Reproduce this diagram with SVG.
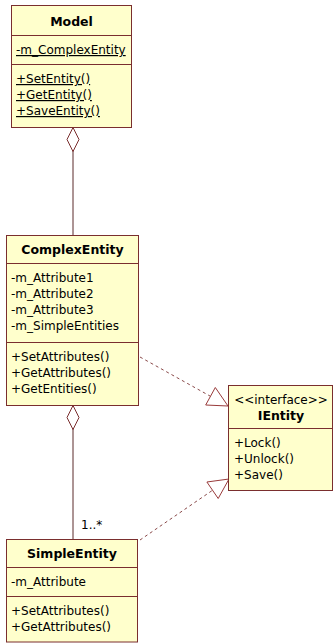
<svg xmlns="http://www.w3.org/2000/svg" width="334" height="643" viewBox="0 0 334 643">
<style>
.box{fill:#ffffcc;stroke:#7a2e2e;stroke-width:1}
.sep{stroke:#7a2e2e;stroke-width:1}
text{font-family:"DejaVu Sans",Verdana,sans-serif;font-size:12px;fill:#000}
.t{font-weight:bold;font-size:12.5px;text-anchor:middle}
.c{text-anchor:middle}
.u{text-decoration:underline}
.line{stroke:#5a2a2a;stroke-width:1;fill:none}
.dash{stroke:#8a4a4a;stroke-width:1;stroke-dasharray:3 3;fill:none}
.dia{fill:#ffffff;stroke:#7a2e2e;stroke-width:1}
.tri{fill:#ffffff;stroke:#993a3a;stroke-width:1}
</style>
<rect width="334" height="643" fill="#ffffff"/>
<g id="connectors">
<path class="line" d="M73 151 V235"/>
<polygon class="dia" points="73,127.5 79,139.5 73,151.5 67,139.5"/>
<path class="line" d="M73 429 V539"/>
<polygon class="dia" points="73,405.5 79,417.5 73,429.5 67,417.5"/>
<text x="81" y="529">1..*</text>
<path class="dash" d="M140 357 L210.5 396.3"/>
<polygon class="tri" points="228,406 205.7,405 215.3,387.5"/>
<path class="dash" d="M140 540 L212.5 490.3"/>
<polygon class="tri" points="229,479 218.2,498.5 206.9,482"/>
</g>
<g id="Model">
<rect class="box" x="11.5" y="5.5" width="120" height="122"/>
<line class="sep" x1="11.5" y1="35.5" x2="131.5" y2="35.5"/>
<line class="sep" x1="11.5" y1="64.5" x2="131.5" y2="64.5"/>
<text class="t" x="71.5" y="26">Model</text>
<text class="u" x="16" y="54">-m_ComplexEntity</text>
<text class="u" x="16" y="83">+SetEntity()</text>
<text class="u" x="16" y="99">+GetEntity()</text>
<text class="u" x="16" y="115">+SaveEntity()</text>
</g>
<g id="ComplexEntity">
<rect class="box" x="6.5" y="235.5" width="132" height="170"/>
<line class="sep" x1="6.5" y1="263.5" x2="138.5" y2="263.5"/>
<line class="sep" x1="6.5" y1="342.5" x2="138.5" y2="342.5"/>
<text class="t" x="72.5" y="254">ComplexEntity</text>
<text x="11" y="282">-m_Attribute1</text>
<text x="11" y="298">-m_Attribute2</text>
<text x="11" y="314">-m_Attribute3</text>
<text x="11" y="330">-m_SimpleEntities</text>
<text x="11" y="361">+SetAttributes()</text>
<text x="11" y="377">+GetAttributes()</text>
<text x="11" y="393">+GetEntities()</text>
</g>
<g id="IEntity">
<rect class="box" x="228.5" y="385.5" width="104" height="105"/>
<line class="sep" x1="228.5" y1="428.5" x2="332.5" y2="428.5"/>
<text class="c" x="281" y="404">&lt;&lt;interface&gt;&gt;</text>
<text class="t" x="281" y="420">IEntity</text>
<text x="234" y="447">+Lock()</text>
<text x="234" y="463">+Unlock()</text>
<text x="234" y="479">+Save()</text>
</g>
<g id="SimpleEntity">
<rect class="box" x="6.5" y="539.5" width="131" height="102.5"/>
<line class="sep" x1="6.5" y1="567.5" x2="137.5" y2="567.5"/>
<line class="sep" x1="6.5" y1="596.5" x2="137.5" y2="596.5"/>
<text class="t" x="72" y="558">SimpleEntity</text>
<text x="11" y="586">-m_Attribute</text>
<text x="11" y="615">+SetAttributes()</text>
<text x="11" y="631">+GetAttributes()</text>
</g>
</svg>
